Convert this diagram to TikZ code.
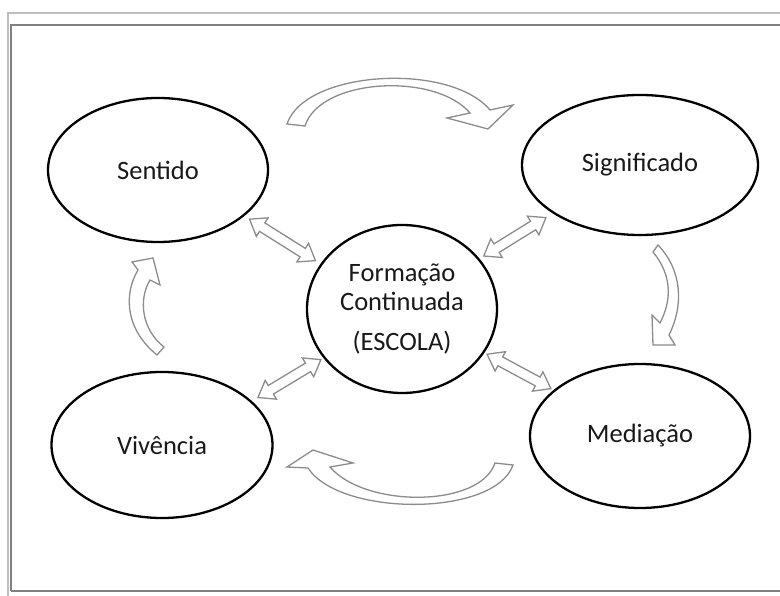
\documentclass[tikz,border=0pt]{standalone}
\usepackage{fontspec}
\setmainfont{Carlito}
\usetikzlibrary{shapes.geometric,calc}

\tikzset{
  bubble/.style={ellipse, draw=black, line width=2.3pt, inner sep=0pt, align=center,
    font=\fontsize{26.5}{28.5}\selectfont, text=black!90},
  blockarrow/.style={draw=black!45, line width=1.3pt, fill=white, line join=miter},
  outerframe/.style={draw=black!25, line width=1.4pt},
  innerframe/.style={draw=black!50, line width=1.6pt},
}

% hollow two-headed block arrow between two named points
\newcommand\twoway[3]{%
  \coordinate (#3a) at ($(#1)!15pt!(#2)$);
  \coordinate (#3b) at ($(#2)!15pt!(#1)$);
  \draw[blockarrow] (#1) -- ($(#3a)!11pt!90:(#2)$) -- ($(#3a)!5pt!90:(#2)$)
    -- ($(#3b)!5pt!-90:(#1)$) -- ($(#3b)!11pt!-90:(#1)$) -- (#2)
    -- ($(#3b)!11pt!90:(#1)$) -- ($(#3b)!5pt!90:(#1)$)
    -- ($(#3a)!5pt!-90:(#2)$) -- ($(#3a)!11pt!-90:(#2)$) -- cycle;}

\begin{document}
\begin{tikzpicture}[x=1pt, y=-1pt]
\useasboundingbox (0,0) rectangle (780,596);

% page frame
\draw[outerframe] (8,596) -- (8,13) -- (790,13);
\draw[innerframe] (11,591) -- (11,25) -- (790,25);
\draw[innerframe] (11,591) -- (790,591);

% the five concepts
\node[bubble, minimum width=220pt, minimum height=144pt] (sent) at (158,170) {Sentido};
\node[bubble, minimum width=236pt, minimum height=140pt] (sign) at (640,165) {Significado};
\node[bubble, minimum width=221pt, minimum height=146pt] (viv)  at (162,445) {Vivência};
\node[bubble, minimum width=220pt, minimum height=144pt] (med)  at (640,436) {Mediação};
\node[bubble, minimum width=190pt, minimum height=168pt] (ctr)  at (402,309)
  {Formação\\Continuada\\[12pt](ESCOLA)};

% links between the centre and each concept
\coordinate (s1) at ($(sent.-28)!6pt!(ctr.151)$);
\coordinate (c1) at ($(ctr.151)!6pt!(sent.-28)$);
\coordinate (s2) at ($(sign.-151)!8pt!(ctr.33)$);
\coordinate (c2) at ($(ctr.33)!5pt!(sign.-151)$);
\coordinate (s3) at ($(viv.26)!7pt!(ctr.-148)$);
\coordinate (c3) at ($(ctr.-148)!3pt!(viv.26)$);
\coordinate (s4) at ($(med.152)!3pt!(ctr.-28)$);
\coordinate (c4) at ($(ctr.-28)!3pt!(med.152)$);
\twoway{s1}{c1}{da}
\twoway{s2}{c2}{db}
\twoway{s3}{c3}{dc}
\twoway{s4}{c4}{dd}

% curved cycle arrows
\draw[blockarrow] (287,124) .. controls (305,70) and (450,62) .. (490,110)
  -- (513,105) -- (488,129) -- (447,118) -- (470,113)
  .. controls (435,72) and (320,78) .. (305,126) -- cycle;
\draw[blockarrow] (653,252) .. controls (672,275) and (672,300) .. (660,323)
  -- (652,315) -- (653,345) -- (675,345) -- (669,335)
  .. controls (684,305) and (682,270) .. (658,245) -- cycle;
\draw[blockarrow] (513,465) .. controls (495,517) and (340,517) .. (308,468)
  -- (287,467) -- (313,450) -- (353,463) -- (330,467)
  .. controls (365,508) and (480,508) .. (495,463) -- cycle;
\draw[blockarrow] (157,355) .. controls (126,330) and (123,295) .. (138,270)
  -- (132,262) -- (153,258) -- (160,285) -- (150,280)
  .. controls (138,300) and (142,330) .. (164,347) -- cycle;
\end{tikzpicture}
\end{document}
